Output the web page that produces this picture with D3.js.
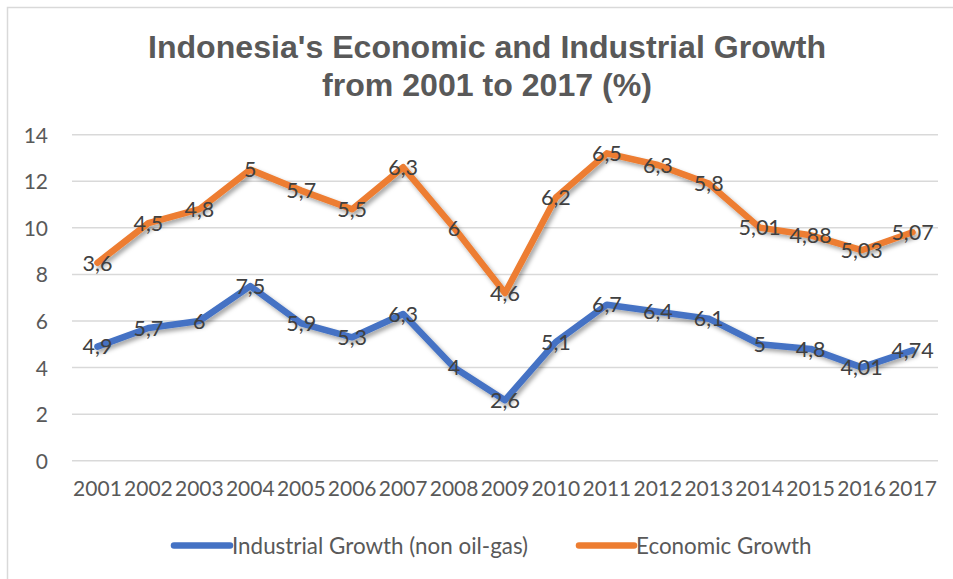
<!DOCTYPE html>
<html>
<head>
<meta charset="utf-8">
<script src="https://cdn.jsdelivr.net/npm/d3@7"></script>
<style>
  html, body { margin: 0; padding: 0; background: #fff; }
  svg { display: block; }
</style>
</head>
<body>
<svg id="chart" width="953" height="579"></svg>
<script>
// Annual growth rates (%) for Indonesia, 2001–2017
const years = ["2001","2002","2003","2004","2005","2006","2007","2008","2009",
               "2010","2011","2012","2013","2014","2015","2016","2017"];
const industrial = [4.9, 5.7, 6, 7.5, 5.9, 5.3, 6.3, 4, 2.6, 5.1, 6.7, 6.4, 6.1, 5, 4.8, 4.01, 4.74];
const economic   = [3.6, 4.5, 4.8, 5, 5.7, 5.5, 6.3, 6, 4.6, 6.2, 6.5, 6.3, 5.8, 5.01, 4.88, 5.03, 5.07];
const yTicks = [0, 2, 4, 6, 8, 10, 12, 14];
const seriesNames = ["Industrial Growth (non oil-gas)", "Economic Growth"];
const seriesColors = ["#4472C4", "#ED7D31"];

const svg = d3.select("#chart");

// outer chart frame
svg.append("rect")
  .attr("x", 7.5).attr("y", 7.5)
  .attr("width", 980).attr("height", 620)
  .attr("fill", "#fff").attr("stroke", "#D9D9D9").attr("stroke-width", 1.5);

// drop shadow used by the line series
const defs = svg.append("defs");
const f = defs.append("filter").attr("id", "shadow")
  .attr("x", "-10%").attr("y", "-10%").attr("width", "120%").attr("height", "130%");
f.append("feDropShadow")
  .attr("dx", 2.5).attr("dy", 3).attr("stdDeviation", 2)
  .attr("flood-color", "#000").attr("flood-opacity", 0.35);

// title
const title = svg.append("g")
  .attr("font-family", "'Liberation Sans', Arial, sans-serif")
  .attr("font-weight", "bold").attr("fill", "#595959")
  .attr("font-size", 32).attr("text-anchor", "middle");
title.append("text").attr("x", 487).attr("y", 58)
  .attr("textLength", 678).attr("lengthAdjust", "spacingAndGlyphs")
  .text("Indonesia's Economic and Industrial Growth");
title.append("text").attr("x", 487).attr("y", 96)
  .attr("textLength", 330).attr("lengthAdjust", "spacingAndGlyphs")
  .text("from 2001 to 2017 (%)");

const x = d3.scaleBand().domain(years).range([72, 938]);
const y = d3.scaleLinear().domain([0, 14]).range([460.7, 134.7]);

const font = "Lato, 'Open Sans', sans-serif";

// horizontal gridlines
svg.append("g").selectAll("line").data(yTicks).join("line")
  .attr("x1", 72).attr("x2", 938)
  .attr("y1", d => y(d)).attr("y2", d => y(d))
  .attr("stroke", "#D9D9D9").attr("stroke-width", 1.5);

// y axis labels
const yAxis = svg.append("g").attr("transform", "translate(48,0)")
  .call(d3.axisLeft(y).tickValues(yTicks).tickSize(0).tickPadding(0));
yAxis.select(".domain").remove();
yAxis.selectAll("text")
  .attr("font-family", font).attr("font-size", 21).attr("fill", "#595959")
  .attr("dy", "0.36em");

// x axis labels
const xAxis = svg.append("g").attr("transform", "translate(0,478)")
  .call(d3.axisBottom(x).tickSize(0).tickPadding(0));
xAxis.select(".domain").remove();
xAxis.selectAll("text")
  .attr("font-family", font).attr("font-size", 21).attr("fill", "#595959")
  .attr("dy", "0.85em");

// stacked series: economic growth sits on top of industrial growth
const rows = years.map((yr, i) => ({ year: yr, ind: industrial[i], eco: economic[i] }));
const stack = d3.stack().keys(["ind", "eco"])(rows);

const line = d3.line()
  .x((d, i) => x(years[i]) + x.bandwidth() / 2)
  .y(d => y(d[1]));

svg.append("g").selectAll("path").data(stack).join("path")
  .attr("d", line)
  .attr("fill", "none")
  .attr("stroke", (d, i) => seriesColors[i])
  .attr("stroke-width", 6.5)
  .attr("stroke-linejoin", "round")
  .attr("stroke-linecap", "round")
  .attr("filter", "url(#shadow)");

// value labels centred on each point
const fmt = v => String(v).replace(".", ",");
stack.forEach((s, si) => {
  svg.append("g").selectAll("text").data(s).join("text")
    .attr("x", (d, i) => x(years[i]) + x.bandwidth() / 2)
    .attr("y", d => y(d[1]))
    .attr("dy", "0.36em")
    .attr("text-anchor", "middle")
    .attr("font-family", font).attr("font-size", 21.5).attr("fill", "#404040")
    .text(d => fmt(d.data[s.key]));
});

// legend
const legend = svg.append("g").attr("font-family", font).attr("font-size", 22.4).attr("fill", "#595959");
const legendItems = [{ x: 174, w: 56 }, { x: 579, w: 55 }];
legendItems.forEach((it, i) => {
  legend.append("line")
    .attr("x1", it.x).attr("x2", it.x + it.w)
    .attr("y1", 545.5).attr("y2", 545.5)
    .attr("stroke", seriesColors[i]).attr("stroke-width", 6.5)
    .attr("stroke-linecap", "round");
  legend.append("text")
    .attr("x", it.x + it.w + 2).attr("y", 545.5).attr("dy", "0.36em")
    .text(seriesNames[i]);
});
</script>
</body>
</html>
